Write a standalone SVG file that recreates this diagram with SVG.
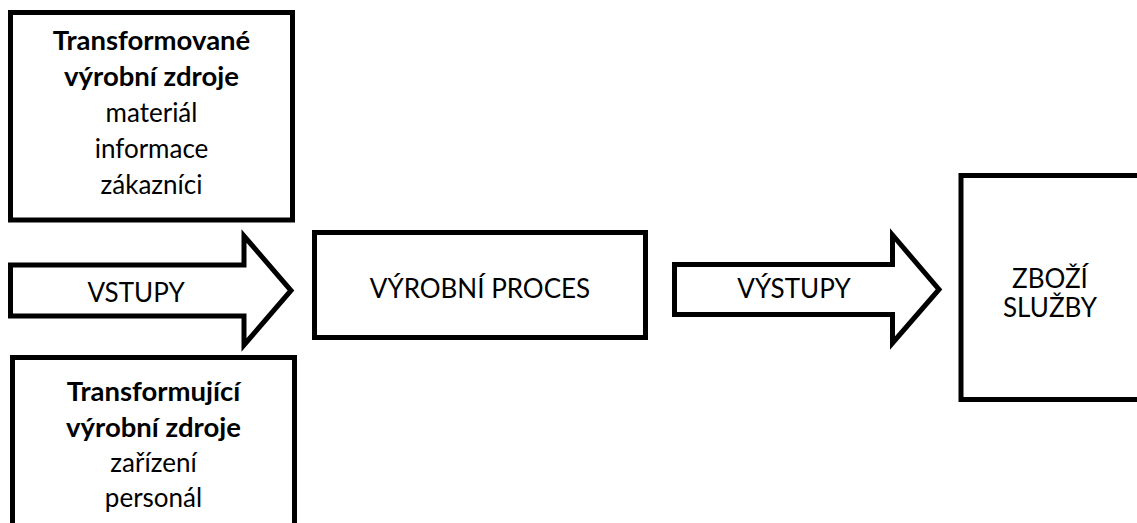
<svg xmlns="http://www.w3.org/2000/svg" width="1137" height="523" viewBox="0 0 1137 523">
  <style>
    .box { fill: #ffffff; stroke: #000000; stroke-width: 5; }
    .arrow { fill: #ffffff; stroke: #000000; stroke-width: 5; stroke-linejoin: miter; stroke-miterlimit: 10; }
    text { font-family: Lato, "Open Sans", "Liberation Sans", sans-serif; font-size: 26px; fill: #000000; text-anchor: middle; }
    .b { font-weight: bold; font-size: 27.5px; }
  </style>
  <rect width="1137" height="523" fill="#ffffff"/>

  <!-- flow arrows -->
  <g id="connectors">
    <polygon id="arrow-inputs" class="arrow" points="10.5,265 244,265 244,236 291,290.5 244,345 244,316 10.5,316"/>
    <polygon id="arrow-outputs" class="arrow" points="674.5,264.5 892.5,264.5 892.5,235 939,289.5 892.5,343 892.5,314.5 674.5,314.5"/>
    <text x="136" y="302">VSTUPY</text>
    <text x="794" y="298">VÝSTUPY</text>
  </g>

  <!-- transformed resources -->
  <g id="transformed-resources">
    <rect class="box" x="10.5" y="12.5" width="282" height="207.5"/>
    <text class="b" x="151.5" y="50">Transformované</text>
    <text class="b" x="151.5" y="86">výrobní zdroje</text>
    <text x="151.5" y="122">materiál</text>
    <text x="151.5" y="158">informace</text>
    <text x="151.5" y="194">zákazníci</text>
  </g>

  <!-- transforming resources -->
  <g id="transforming-resources">
    <rect class="box" x="12.5" y="357.5" width="282" height="168"/>
    <text class="b" x="153.5" y="401">Transformující</text>
    <text class="b" x="153.5" y="437">výrobní zdroje</text>
    <text x="153.5" y="472">zařízení</text>
    <text x="153.5" y="507">personál</text>
  </g>

  <!-- production process -->
  <g id="process">
    <rect class="box" x="314.5" y="232.5" width="331" height="105"/>
    <text x="480" y="298">VÝROBNÍ PROCES</text>
  </g>

  <!-- goods and services -->
  <g id="outputs">
    <rect class="box" x="961" y="175.5" width="180" height="224"/>
    <text x="1050" y="288">ZBOŽÍ</text>
    <text x="1050" y="317">SLUŽBY</text>
  </g>
</svg>
